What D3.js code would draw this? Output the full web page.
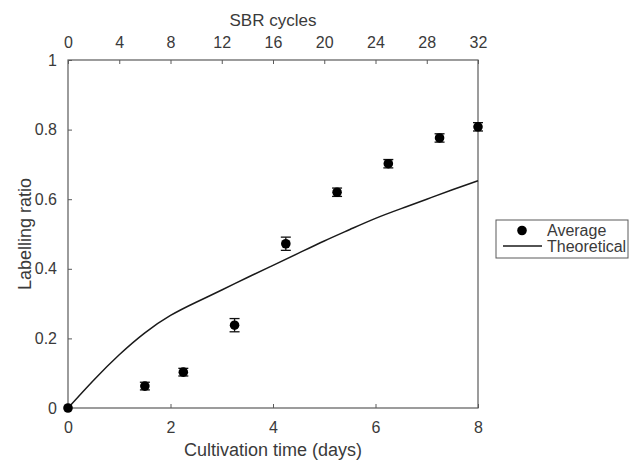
<!DOCTYPE html>
<html>
<head>
<meta charset="utf-8">
<script src="https://cdn.jsdelivr.net/npm/d3@7"></script>
<style>
  body { margin: 0; background: #fff; }
  svg text { font-family: "Liberation Sans", Arial, sans-serif; fill: #3a3a3a; }
</style>
</head>
<body>
<svg id="chart" width="638" height="463"></svg>
<script>
// measured points
var days = [0, 1.5, 2.25, 3.25, 4.25, 5.25, 6.25, 7.25, 8];
var ratio = [0, 0.063, 0.103, 0.238, 0.472, 0.62, 0.702, 0.776, 0.808];
var ratioErr = [0, 0.011, 0.011, 0.019, 0.019, 0.012, 0.012, 0.012, 0.012];

// theoretical curve
var theoDays = [0, 0.5, 1, 1.5, 2, 2.5, 3, 3.5, 4, 4.5, 5, 5.5, 6, 6.5, 7, 7.5, 8];
var theoRatio = [0, 0.08, 0.153, 0.216, 0.266, 0.304, 0.339, 0.375, 0.41, 0.445, 0.48, 0.513, 0.545, 0.573, 0.6, 0.627, 0.653];

var dayTicks = [0, 2, 4, 6, 8];
var cycleTicks = [0, 4, 8, 12, 16, 20, 24, 28, 32];
var ratioTicks = [0, 0.2, 0.4, 0.6, 0.8, 1];

var svg = d3.select("#chart");
var plotLeft = 68, plotRight = 478, plotTop = 60, plotBottom = 408;
var axisColor = "#5a5a5a";

var x = d3.scaleLinear().domain([0, 8]).range([plotLeft, plotRight]);
var xTop = d3.scaleLinear().domain([0, 32]).range([plotLeft, plotRight]);
var y = d3.scaleLinear().domain([0, 1]).range([plotBottom, plotTop]);

// box
svg.append("rect")
    .attr("x", plotLeft).attr("y", plotTop)
    .attr("width", plotRight - plotLeft).attr("height", plotBottom - plotTop)
    .attr("fill", "none")
    .attr("stroke", axisColor)
    .attr("stroke-width", 1.2);

function styleAxis(g) {
  g.select(".domain").remove();
  g.selectAll(".tick line").attr("stroke", axisColor);
  g.selectAll(".tick text")
      .attr("font-size", "16px")
      .style("fill", "#3a3a3a");
}

// inward ticks, labels outside
svg.append("g")
    .attr("transform", "translate(0," + plotBottom + ")")
    .call(d3.axisBottom(x).tickValues(dayTicks).tickFormat(d3.format("d"))
      .tickSizeInner(-4).tickSizeOuter(0).tickPadding(14))
    .call(styleAxis);

svg.append("g")
    .attr("transform", "translate(0," + plotTop + ")")
    .call(d3.axisTop(xTop).tickValues(cycleTicks).tickFormat(d3.format("d"))
      .tickSizeInner(-4).tickSizeOuter(0).tickPadding(12))
    .call(styleAxis);

svg.append("g")
    .attr("transform", "translate(" + plotLeft + ",0)")
    .call(d3.axisLeft(y).tickValues(ratioTicks).tickFormat(d => d === 0 || d === 1 ? d : d3.format(".1f")(d))
      .tickSizeInner(-4).tickSizeOuter(0).tickPadding(11))
    .call(styleAxis);

// axis titles
svg.append("text")
    .attr("x", (plotLeft + plotRight) / 2).attr("y", 456)
    .attr("font-size", "18px")
    .style("text-anchor", "middle")
    .text("Cultivation time (days)");

svg.append("text")
    .attr("x", (plotLeft + plotRight) / 2).attr("y", 26)
    .attr("font-size", "17px")
    .style("text-anchor", "middle")
    .text("SBR cycles");

svg.append("text")
    .attr("transform", "translate(31," + (plotTop + plotBottom) / 2 + ") rotate(-90)")
    .attr("font-size", "18px")
    .style("text-anchor", "middle")
    .text("Labelling ratio");

// theoretical line
var line = d3.line()
    .x(d => x(d[0]))
    .y(d => y(d[1]))
    .curve(d3.curveNatural);

svg.append("path")
    .datum(d3.zip(theoDays, theoRatio))
    .attr("d", line)
    .attr("fill", "none")
    .attr("stroke", "#1a1a1a")
    .attr("stroke-width", 1.5);

// error bars + markers
var pts = d3.zip(days, ratio, ratioErr);
var bars = svg.append("g").selectAll("g")
    .data(pts.filter(d => d[2] > 0))
    .enter().append("g")
    .attr("stroke", "#111")
    .attr("stroke-width", 1.3);

bars.append("line")
    .attr("x1", d => x(d[0])).attr("x2", d => x(d[0]))
    .attr("y1", d => y(d[1] - d[2])).attr("y2", d => y(d[1] + d[2]));
bars.append("line")
    .attr("x1", d => x(d[0]) - 5).attr("x2", d => x(d[0]) + 5)
    .attr("y1", d => y(d[1] - d[2])).attr("y2", d => y(d[1] - d[2]));
bars.append("line")
    .attr("x1", d => x(d[0]) - 5).attr("x2", d => x(d[0]) + 5)
    .attr("y1", d => y(d[1] + d[2])).attr("y2", d => y(d[1] + d[2]));

svg.append("g").selectAll("circle")
    .data(pts)
    .enter().append("circle")
    .attr("cx", d => x(d[0]))
    .attr("cy", d => y(d[1]))
    .attr("r", 4.8)
    .attr("fill", "#000");

// legend
var lg = svg.append("g");
lg.append("rect")
    .attr("x", 496).attr("y", 220)
    .attr("width", 132).attr("height", 38)
    .attr("fill", "#fff")
    .attr("stroke", axisColor)
    .attr("stroke-width", 1);
lg.append("circle")
    .attr("cx", 522).attr("cy", 230.5).attr("r", 4.8).attr("fill", "#000");
lg.append("text")
    .attr("x", 547).attr("y", 236)
    .attr("font-size", "16px")
    .text("Average");
lg.append("line")
    .attr("x1", 503).attr("x2", 542)
    .attr("y1", 246).attr("y2", 246)
    .attr("stroke", "#1a1a1a").attr("stroke-width", 1.5);
lg.append("text")
    .attr("x", 547).attr("y", 251.5)
    .attr("font-size", "16px")
    .text("Theoretical");
</script>
</body>
</html>
